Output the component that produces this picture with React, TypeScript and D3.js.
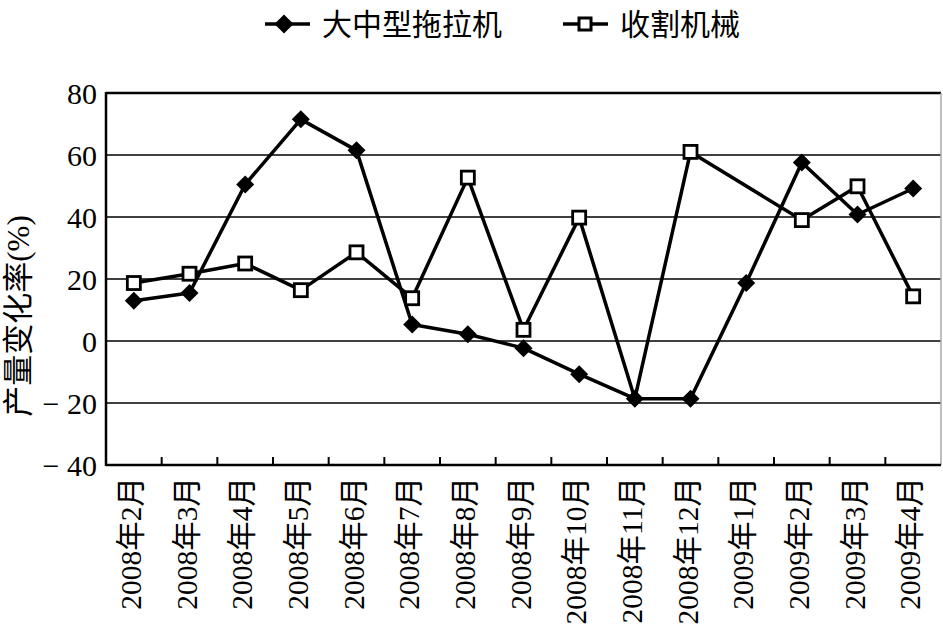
import React from "react";
import * as d3 from "d3";

const categories = [
  "2008年2月", "2008年3月", "2008年4月", "2008年5月", "2008年6月", "2008年7月",
  "2008年8月", "2008年9月", "2008年10月", "2008年11月", "2008年12月",
  "2009年1月", "2009年2月", "2009年3月", "2009年4月",
];
const tractor = [13, 15.5, 50.5, 71.5, 61.5, 5.3, 2.2, -2.3, -10.7, -18.6, -18.6, 18.7, 57.6, 40.8, 49.2];
const harvester: (number | null)[] = [18.7, 21.7, 25, 16.4, 28.6, 13.8, 52.7, 3.6, 39.8, -18.6, 61, null, 39, 49.9, 14.4];
const harvesterHiddenMarkers = ["2008年11月"];
const yTicks = [80, 60, 40, 20, 0, -20, -40];
const seriesNames = ["大中型拖拉机", "收割机械"];
const yTitle = "产量变化率(%)";

const W = 943, H = 627;
const left = 106, right = 941, top = 93, bottom = 465;
const serif = "'Liberation Serif', 'Times New Roman', 'Noto Sans CJK SC', serif";

export default function App() {
  const x = d3.scaleBand<string>().domain(categories).range([left, right]).padding(0);
  const y = d3.scaleLinear().domain([-40, 80]).range([bottom, top]);
  const cx = (c: string) => (x(c) as number) + x.bandwidth() / 2;

  const tPts = categories.map((c, i) => [cx(c), y(tractor[i])] as [number, number]);
  const hPts = categories
    .map((c, i) => ({ c, v: harvester[i] }))
    .filter((d) => d.v !== null)
    .map((d) => ({ c: d.c, p: [cx(d.c), y(d.v as number)] as [number, number] }));
  const line = d3.line();

  const diamond = (px: number, py: number, r: number) =>
    `M${px},${py - r}L${px + r},${py}L${px},${py + r}L${px - r},${py}Z`;

  const fmt = (v: number) => (v < 0 ? `− ${Math.abs(v)}` : `${v}`);

  return (
    <svg width={W} height={H} style={{ position: "absolute", left: 0, top: 0, background: "#fff" }}>
      <rect x={0} y={0} width={W} height={H} fill="#fff" />
      {/* Legend */}
      <g>
        <line x1={265} x2={310} y1={24} y2={24} stroke="#000" strokeWidth={3.5} />
        <path d={diamond(284, 24, 9.5)} fill="#000" />
        <text x={322} y={24} dominantBaseline="central" fontFamily={serif} fontSize={30}>{seriesNames[0]}</text>
        <line x1={563} x2={608} y1={24} y2={24} stroke="#000" strokeWidth={3.5} />
        <rect x={579} y={18} width={12} height={12} fill="#fff" stroke="#000" strokeWidth={3} />
        <text x={620} y={24} dominantBaseline="central" fontFamily={serif} fontSize={30}>{seriesNames[1]}</text>
      </g>
      {/* Gridlines */}
      {yTicks.map((t) => (
        <line key={t} x1={left} x2={right} y1={y(t)} y2={y(t)} stroke="#000" strokeWidth={t === 80 ? 2.5 : 1.6} />
      ))}
      {/* Right border */}
      <line x1={right} x2={right} y1={top} y2={bottom} stroke="#aaa" strokeWidth={1.5} />
      {/* Axes */}
      <line x1={left} x2={left} y1={top - 1} y2={bottom + 1} stroke="#000" strokeWidth={2.5} />
      <line x1={left} x2={right} y1={bottom} y2={bottom} stroke="#000" strokeWidth={2.5} />
      {categories.slice(1).map((c) => (
        <line key={c} x1={x(c)} x2={x(c)} y1={bottom} y2={bottom - 8} stroke="#000" strokeWidth={2} />
      ))}
      {/* Y tick labels */}
      {yTicks.map((t) => (
        <text key={t} x={97} y={y(t)} textAnchor="end" dominantBaseline="central" fontFamily={serif} fontSize={30}>
          {fmt(t)}
        </text>
      ))}
      {/* Y title */}
      <text
        transform={`translate(18,316) rotate(-90)`}
        textAnchor="middle"
        dominantBaseline="central"
        fontFamily={serif}
        fontSize={31}
      >
        {yTitle}
      </text>
      {/* X labels */}
      {categories.map((c) => (
        <text
          key={c}
          transform={`translate(${cx(c) - 3},477) rotate(-90)`}
          textAnchor="end"
          dominantBaseline="central"
          fontFamily={serif}
          fontSize={29.5}
        >
          {c}
        </text>
      ))}
      {/* Harvester series */}
      <path d={line(hPts.map((d) => d.p)) as string} fill="none" stroke="#000" strokeWidth={3.5} strokeLinejoin="round" />
      {/* Tractor series */}
      <path d={line(tPts) as string} fill="none" stroke="#000" strokeWidth={3.5} strokeLinejoin="round" />
      {hPts
        .filter((d) => !harvesterHiddenMarkers.includes(d.c))
        .map((d) => (
          <rect key={d.c} x={d.p[0] - 6.5} y={d.p[1] - 6.5} width={13} height={13} fill="#fff" stroke="#000" strokeWidth={2.8} />
        ))}
      {tPts.map((p, i) => (
        <path key={i} d={diamond(p[0], p[1], 9)} fill="#000" />
      ))}
    </svg>
  );
}
